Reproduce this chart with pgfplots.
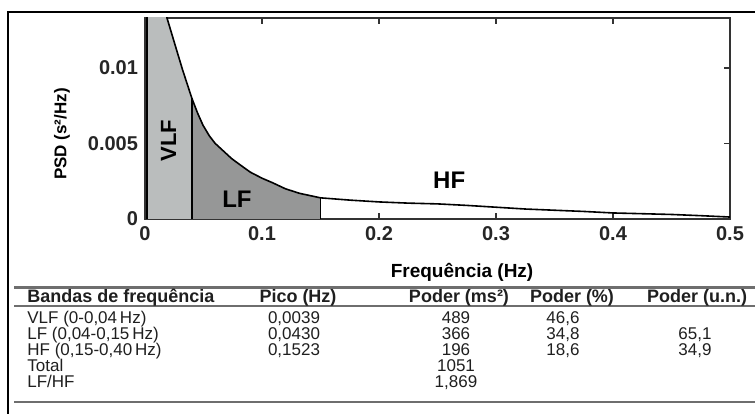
\documentclass[border=0pt]{standalone}
\usepackage{fontspec}
\setmainfont{Liberation Sans}
\usepackage{pgfplots}
\pgfplotsset{compat=1.18}

\definecolor{vlfgray}{RGB}{186,189,189}
\definecolor{lfgray}{RGB}{150,151,151}
\definecolor{rulegray}{RGB}{110,110,110}
\newcommand\hdr{\fontsize{9}{10}\selectfont\bfseries}
\newcommand\bdy{\fontsize{8.5}{10}\selectfont}

\begin{document}
\begin{tikzpicture}
\useasboundingbox (0,0) rectangle (377.5pt,206.5pt);
\begin{axis}[
  at={(72.5pt,97pt)}, anchor=south west,
  scale only axis, width=292.5pt, height=100.5pt,
  xmin=0, xmax=0.5, ymin=0, ymax=0.0133,
  xtick={0,0.1,0.2,0.3,0.4,0.5},
  xticklabels={0,0.1,0.2,0.3,0.4,0.5},
  ytick={0,0.005,0.01}, yticklabels={0,0.005,0.01},
  scaled y ticks=false,
  tick align=inside, major tick length=3pt,
  tick style={line width=0.9pt, black!80},
  axis line style={line width=1pt, black!80},
  tick label style={font=\fontsize{10}{12}\selectfont\bfseries, black!85},
  xlabel={Frequência (Hz)}, ylabel={PSD (s²/Hz)},
  xlabel style={at={(axis description cs:0.542,-0.264)}, anchor=center,
                font=\fontsize{9.5}{11}\selectfont\bfseries},
  ylabel style={at={(axis description cs:-0.142,0.423)}, anchor=center,
                font=\fontsize{8.5}{10}\selectfont\bfseries},
]
% VLF band
\addplot[fill=vlfgray, draw=none] coordinates {
  (0.0017,0) (0.0017,0.030) (0.006,0.022) (0.012,0.0165) (0.0188,0.0133)
  (0.025,0.0117) (0.032,0.0099) (0.04,0.0080) (0.04,0)} \closedcycle;
% LF band
\addplot[fill=lfgray, draw=none] coordinates {
  (0.04,0) (0.04,0.0080) (0.045,0.0070) (0.0496,0.0062) (0.055,0.0055)
  (0.060,0.0050) (0.067,0.0045) (0.074,0.0040) (0.081,0.0036) (0.090,0.0031)
  (0.100,0.0027) (0.109,0.0024) (0.120,0.0020) (0.132,0.0017) (0.150,0.0014)
  (0.150,0)} \closedcycle;
% PSD curve
\addplot[black, line width=0.8pt] coordinates {
  (0.0017,0) (0.0017,0.030) (0.006,0.022) (0.012,0.0165) (0.0188,0.0133)
  (0.025,0.0117) (0.032,0.0099) (0.04,0.0080) (0.045,0.0070) (0.0496,0.0062)
  (0.055,0.0055) (0.060,0.0050) (0.067,0.0045) (0.074,0.0040) (0.081,0.0036)
  (0.090,0.0031) (0.100,0.0027) (0.109,0.0024) (0.120,0.0020) (0.132,0.0017)
  (0.150,0.0014) (0.175,0.00125) (0.200,0.00113) (0.225,0.00105) (0.250,0.0010)
  (0.275,0.0009) (0.300,0.00078) (0.325,0.00066) (0.350,0.00058) (0.375,0.0005)
  (0.400,0.0004) (0.425,0.00035) (0.450,0.0003) (0.475,0.00022) (0.500,0.00013)};
\addplot[black, line width=1.4pt] coordinates {(0.0017,0) (0.0017,0.0133)};
\addplot[black, line width=0.9pt] coordinates {(0.04,0) (0.04,0.0080)};
\addplot[black, line width=0.6pt] coordinates {(0.15,0) (0.15,0.0014)};
\node[rotate=90, font=\fontsize{11}{12}\selectfont\bfseries] at (axis cs:0.0201,0.0052) {VLF};
\node[font=\fontsize{12}{13}\selectfont\bfseries] at (axis cs:0.0786,0.00132) {LF};
\node[font=\fontsize{12}{13}\selectfont\bfseries] at (axis cs:0.26,0.00258) {HF};
\end{axis}

\begin{scope}[x=0.5pt, y=-0.5pt, shift={(0pt,206.5pt)}]
\draw[line width=1pt] (8,440) -- (8,12) -- (780,12);
\draw[rulegray, line width=1.4pt] (14,287.5) -- (780,287.5);
\draw[rulegray, line width=1.4pt] (14,306) -- (780,306);
\draw[rulegray, line width=1.4pt] (14,402) -- (780,402);
\begin{scope}[every node/.style={inner sep=0pt, text=black!88}]
% header (positions are baselines)
\node[anchor=base west, font=\hdr] at (27,302) {Bandas de frequência};
\node[anchor=base, font=\hdr] at (298,302) {Pico (Hz)};
\node[anchor=base, font=\hdr] at (459,302) {Poder (ms²)};
\node[anchor=base, font=\hdr] at (572,302) {Poder (\%)};
\node[anchor=base, font=\hdr] at (697,302) {Poder (u.n.)};
% rows
\node[anchor=base west, font=\bdy] at (27,323) {VLF (0-0,04\,Hz)};
\node[anchor=base west, font=\bdy] at (27,339) {LF (0,04-0,15\,Hz)};
\node[anchor=base west, font=\bdy] at (27,355) {HF (0,15-0,40\,Hz)};
\node[anchor=base west, font=\bdy] at (27,371) {Total};
\node[anchor=base west, font=\bdy] at (27,387) {LF/HF};
\node[anchor=base, font=\bdy] at (294,323) {0,0039};
\node[anchor=base, font=\bdy] at (294,339) {0,0430};
\node[anchor=base, font=\bdy] at (294,355) {0,1523};
\node[anchor=base, font=\bdy] at (456,323) {489};
\node[anchor=base, font=\bdy] at (456,339) {366};
\node[anchor=base, font=\bdy] at (456,355) {196};
\node[anchor=base, font=\bdy] at (456,371) {1051};
\node[anchor=base, font=\bdy] at (456,387) {1,869};
\node[anchor=base, font=\bdy] at (563,323) {46,6};
\node[anchor=base, font=\bdy] at (563,339) {34,8};
\node[anchor=base, font=\bdy] at (563,355) {18,6};
\node[anchor=base, font=\bdy] at (695,339) {65,1};
\node[anchor=base, font=\bdy] at (695,355) {34,9};
\end{scope}
\end{scope}
\end{tikzpicture}
\end{document}
